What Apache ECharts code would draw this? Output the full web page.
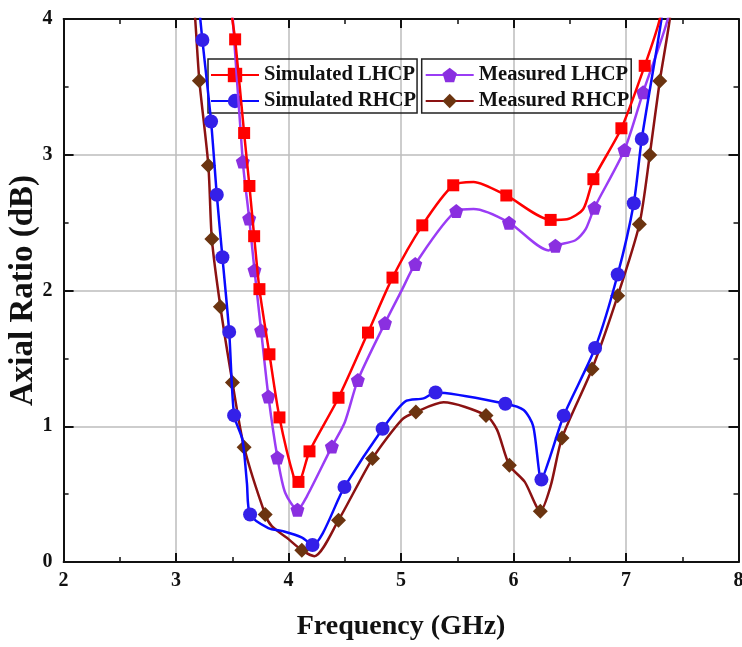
<!DOCTYPE html>
<html>
<head>
<meta charset="utf-8">
<script src="https://cdn.jsdelivr.net/npm/echarts@6/dist/echarts.min.js"></script>
<style>
html,body{margin:0;padding:0;background:#fff;}
#chart{width:742px;height:647px;}
</style>
</head>
<body>
<div id="chart"></div>
<script>
// ---- data (frequency GHz, axial ratio dB) ----
const xTicks = [2, 3, 4, 5, 6, 7, 8];
const yTicks = [0, 1, 2, 3, 4];

// marker points
const simLHCPMarkers = [[3.525,3.85],[3.605,3.16],[3.652,2.77],[3.694,2.40],[3.741,2.01],[3.830,1.53],[3.919,1.065],[4.088,0.59],[4.186,0.815],[4.444,1.21],[4.706,1.69],[4.924,2.095],[5.189,2.48],[5.464,2.775],[5.936,2.70],[6.330,2.52],[6.710,2.82],[6.959,3.195],[7.166,3.655]];
const simRHCPMarkers = [[3.234,3.845],[3.311,3.245],[3.362,2.705],[3.412,2.245],[3.472,1.695],[3.516,1.08],[3.658,0.35],[4.213,0.125],[4.497,0.553],[4.836,0.982],[5.307,1.249],[5.927,1.166],[6.248,0.607],[6.446,1.078],[6.725,1.576],[6.926,2.118],[7.069,2.643],[7.140,3.116]];
const measLHCPMarkers = [[3.593,2.95],[3.650,2.53],[3.697,2.15],[3.756,1.705],[3.821,1.22],[3.901,0.77],[4.079,0.385],[4.385,0.85],[4.616,1.34],[4.857,1.76],[5.126,2.195],[5.491,2.585],[5.960,2.50],[6.372,2.33],[6.719,2.61],[6.986,3.035],[7.152,3.46]];
const measRHCPMarkers = [[3.207,3.545],[3.287,2.92],[3.318,2.38],[3.394,1.88],[3.501,1.323],[3.605,0.845],[3.792,0.35],[4.118,0.087],[4.444,0.308],[4.746,0.762],[5.132,1.105],[5.755,1.08],[5.963,0.712],[6.238,0.374],[6.431,0.914],[6.698,1.422],[6.926,1.961],[7.119,2.488],[7.211,2.998],[7.300,3.543]];

// additional curve points (line only, no marker)
const simLHCPCurve = [[3.48,4.2],[3.50,4.0],[4.05,0.615],[5.645,2.80],[6.476,2.525],[6.62,2.60],[7.30,4.0],[7.33,4.25]];
const simRHCPCurve = [[3.19,4.2],[3.215,4.0],[3.59,0.90],[3.63,0.58],[3.82,0.25],[3.96,0.225],[4.12,0.18],[5.037,1.183],[5.20,1.205],[6.09,1.12],[6.175,1.0],[6.327,0.78],[7.315,4.0],[7.34,4.25]];
const measLHCPCurve = [[3.48,4.2],[3.505,3.99],[3.97,0.51],[4.163,0.484],[4.50,1.03],[5.008,2.005],[5.645,2.60],[6.312,2.295],[6.55,2.37],[6.64,2.45],[7.371,4.0],[7.40,4.25]];
const measRHCPCurve = [[3.15,4.2],[3.17,4.0],[3.851,0.264],[3.985,0.178],[4.23,0.043],[5.008,1.049],[5.378,1.176],[5.853,0.975],[6.10,0.59],[6.33,0.56],[7.389,4.0],[7.41,4.25]];

const seriesNames = ['Simulated LHCP', 'Simulated RHCP', 'Measured LHCP', 'Measured RHCP'];

function buildData(markers, curve) {
  const all = markers.map(p => ({ value: p }))
    .concat(curve.map(p => ({ value: p, symbol: 'none' })));
  all.sort((a, b) => a.value[0] - b.value[0]);
  return all;
}

const pentagon = 'path://M0,-1 L0.951,-0.309 L0.588,0.809 L-0.588,0.809 L-0.951,-0.309 Z';
const FONT = '"Liberation Serif","Times New Roman",serif';

const styles = [
  { line: '#ff0000', item: '#ff0000', symbol: 'rect', size: 12, data: buildData(simLHCPMarkers, simLHCPCurve) },
  { line: '#0a0aff', item: '#3420e8', symbol: 'circle', size: 14, data: buildData(simRHCPMarkers, simRHCPCurve) },
  { line: '#9a3cf5', item: '#8a2fe0', symbol: pentagon, size: 14, data: buildData(measLHCPMarkers, measLHCPCurve) },
  { line: '#8b1212', item: '#6b3410', symbol: 'diamond', size: 15, data: buildData(measRHCPMarkers, measRHCPCurve) }
];

const series = styles.map((s, i) => ({
  name: seriesNames[i],
  type: 'line',
  data: s.data,
  smooth: 0.25,
  symbol: s.symbol,
  symbolSize: s.size,
  showSymbol: true,
  showAllSymbol: true,
  clip: true,
  lineStyle: { color: s.line, width: 2.5 },
  itemStyle: { color: s.item },
  emphasis: { disabled: true },
  z: 3 + (3 - i)
}));

const axisLine = { show: true, onZero: false, lineStyle: { color: '#111', width: 2 } };
const labelStyle = { fontFamily: FONT, fontWeight: 'bold', fontSize: 20, color: '#111' };
const legendText = { fontFamily: FONT, fontWeight: 'bold', fontSize: 20.5, color: '#111', lineHeight: 22 };

const option = {
  animation: false,
  backgroundColor: '#fff',
  grid: { left: 63.6, right: 3.5, top: 19, bottom: 85, containLabel: false, outerBoundsMode: 'none' },
  legend: [
    {
      data: seriesNames.slice(0, 2),
      orient: 'vertical', left: 208, top: 59,
      itemWidth: 48, itemHeight: 18, itemGap: 4,
      padding: [5, 1, 1, 2],
      borderColor: '#222', borderWidth: 1.5,
      textStyle: legendText
    },
    {
      data: seriesNames.slice(2, 4),
      orient: 'vertical', left: 421.7, top: 59,
      itemWidth: 48, itemHeight: 18, itemGap: 4,
      padding: [5, 2, 1, 3],
      borderColor: '#222', borderWidth: 1.5,
      textStyle: legendText
    }
  ],
  xAxis: [
    {
      type: 'value', min: xTicks[0], max: xTicks[xTicks.length - 1], interval: 1,
      name: 'Frequency (GHz)', nameLocation: 'middle', nameGap: 51, nameMoveOverlap: false,
      nameTextStyle: { fontFamily: FONT, fontWeight: 'bold', fontSize: 28, color: '#111' },
      axisLine: axisLine,
      axisTick: { show: true, inside: true, length: 9, lineStyle: { color: '#111', width: 2 } },
      minorTick: { show: true, splitNumber: 2, length: 5, lineStyle: { color: '#111', width: 1.5 } },
      axisLabel: Object.assign({ margin: 9 }, labelStyle),
      splitLine: { show: true, lineStyle: { color: '#bdbdbd', width: 1.5 } }
    },
    {
      type: 'value', position: 'top', min: xTicks[0], max: xTicks[xTicks.length - 1], interval: 1,
      axisLine: axisLine,
      axisTick: { show: true, inside: true, length: 9, lineStyle: { color: '#111', width: 2 } },
      minorTick: { show: true, splitNumber: 2, length: 5, lineStyle: { color: '#111', width: 1.5 } },
      axisLabel: { show: false }, splitLine: { show: false }
    }
  ],
  yAxis: [
    {
      type: 'value', min: yTicks[0], max: yTicks[yTicks.length - 1], interval: 1,
      name: 'Axial Ratio (dB)', nameLocation: 'middle', nameGap: 24, nameMoveOverlap: false,
      nameTextStyle: { fontFamily: FONT, fontWeight: 'bold', fontSize: 33, color: '#111' },
      axisLine: axisLine,
      axisTick: { show: true, inside: true, length: 10, lineStyle: { color: '#111', width: 2 } },
      minorTick: { show: true, splitNumber: 2, length: 5, lineStyle: { color: '#111', width: 1.5 } },
      axisLabel: Object.assign({ margin: 11 }, labelStyle),
      splitLine: { show: true, lineStyle: { color: '#bdbdbd', width: 1.5 } }
    },
    {
      type: 'value', position: 'right', min: yTicks[0], max: yTicks[yTicks.length - 1], interval: 1,
      axisLine: axisLine,
      axisTick: { show: true, inside: true, length: 10, lineStyle: { color: '#111', width: 2 } },
      minorTick: { show: true, splitNumber: 2, length: 5, lineStyle: { color: '#111', width: 1.5 } },
      axisLabel: { show: false }, splitLine: { show: false }
    }
  ],
  series: series
};

const chart = echarts.init(document.getElementById('chart'), null, { renderer: 'canvas' });
chart.setOption(option);
</script>
</body>
</html>
